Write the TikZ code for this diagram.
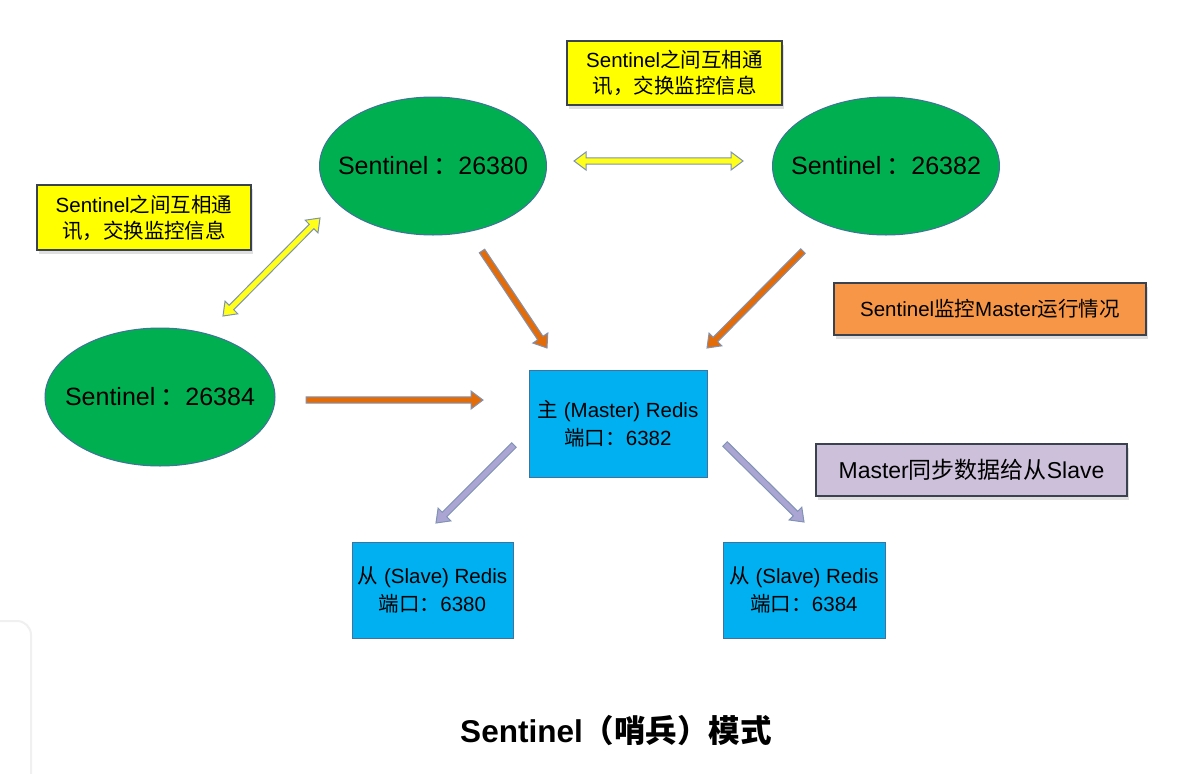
\documentclass[tikz,border=0pt]{standalone}
\usepackage{fontspec}
\setmainfont{Liberation Sans}
\newfontfamily\cjk{Noto Sans CJK SC}
\usetikzlibrary{shapes.geometric,shadows,calc}
\definecolor{ellgreen}{HTML}{00B050}
\definecolor{bordblue}{HTML}{41719C}
\definecolor{boxblue}{HTML}{00B0F0}
\definecolor{callyellow}{HTML}{FFFF00}
\definecolor{callorange}{HTML}{F79646}
\definecolor{callpurple}{HTML}{CCC0DA}
\definecolor{calledge}{HTML}{3A4250}
\definecolor{arrline}{HTML}{7F93B5}
\definecolor{arryellow}{HTML}{FFFF1A}
\definecolor{arrorange}{HTML}{E36C09}
\definecolor{arrpurple}{HTML}{ABA5D3}
\newcommand{\arrSW}{3.2pt}
\newcommand{\arrHW}{9pt}
\newcommand{\arrHL}{12pt}
\newcommand{\singlearrow}[3]{%
  \coordinate (tmpH) at ($(#3)!\arrHL!(#2)$);
  \filldraw[#1] ($(#2)!\arrSW!90:(#3)$) -- ($(tmpH)!\arrSW!90:(#3)$) -- ($(tmpH)!\arrHW!90:(#3)$) -- (#3)
    -- ($(tmpH)!\arrHW!-90:(#3)$) -- ($(tmpH)!\arrSW!-90:(#3)$) -- ($(#2)!\arrSW!-90:(#3)$) -- cycle;}
\newcommand{\doublearrow}[3]{%
  \coordinate (tmpH) at ($(#3)!\arrHL!(#2)$);
  \coordinate (tmpG) at ($(#2)!\arrHL!(#3)$);
  \filldraw[#1] (#2) -- ($(tmpG)!\arrHW!90:(#3)$) -- ($(tmpG)!\arrSW!90:(#3)$) -- ($(tmpH)!\arrSW!90:(#3)$)
    -- ($(tmpH)!\arrHW!90:(#3)$) -- (#3) -- ($(tmpH)!\arrHW!-90:(#3)$) -- ($(tmpH)!\arrSW!-90:(#3)$)
    -- ($(tmpG)!\arrSW!-90:(#3)$) -- ($(tmpG)!\arrHW!-90:(#3)$) -- cycle;}
\newcommand{\senttext}[1]{\makebox[0pt]{Sentinel\kern5pt{\cjk ：}#1}}
\begin{document}
\begin{tikzpicture}[x=1pt,y=-1pt,
  sentinel/.style={ellipse, fill=ellgreen, draw=bordblue, line width=1pt, inner sep=0pt,
    minimum width=227pt, minimum height=138pt, font=\fontsize{25}{30}\selectfont},
  redis/.style={rectangle, fill=boxblue, draw=bordblue, line width=1pt, inner sep=0pt,
    align=center, font=\fontsize{20.5}{28}\selectfont},
  callout/.style={rectangle, draw=calledge, line width=1.4pt, inner sep=0pt, align=center,
    drop shadow={shadow xshift=2pt, shadow yshift=-4pt, opacity=0.25},
    font=\fontsize{20.5}{26}\selectfont},
  yarr/.style={fill=arryellow, draw=arrline, line width=1pt},
  oarr/.style={fill=arrorange, draw=arrline, line width=1pt},
  parr/.style={fill=arrpurple, draw=arrline, line width=1pt}]
\useasboundingbox (0,0) rectangle (1203,774);
\fill[white] (0,0) rectangle (1203,774);
\draw[black!6, line width=2pt, rounded corners=14pt] (0,621) -- (31,621) -- (31,774);

% sentinels
\node[sentinel] (s80) at (433,166) {\senttext{26380}};
\node[sentinel] (s82) at (886,166) {\senttext{26382}};
\node[sentinel, minimum width=230pt] (s84) at (160,397) {\senttext{26384}};

% redis boxes
\node[redis, minimum width=178pt, minimum height=107pt] (master) at (618,423.5)
  {{\cjk 主} (Master) Redis\\{\cjk 端口：}6382};
\node[redis, minimum width=161pt, minimum height=96pt] (slaveA) at (432.5,590)
  {{\cjk 从} (Slave) Redis\\{\cjk 端口：}6380};
\node[redis, minimum width=162pt, minimum height=96pt] (slaveB) at (804,590)
  {{\cjk 从} (Slave) Redis\\{\cjk 端口：}6384};

% callouts
\node[callout, fill=callyellow, minimum width=215pt, minimum height=64pt] (noteTop) at (674.5,73)
  {Sentinel{\cjk 之间互相通}\\{\cjk 讯，交换监控信息}};
\node[callout, fill=callyellow, minimum width=214pt, minimum height=65pt] (noteLeft) at (144,217.5)
  {Sentinel{\cjk 之间互相通}\\{\cjk 讯，交换监控信息}};
\node[callout, fill=callorange, minimum width=312pt, minimum height=52pt] (noteMon) at (990,309)
  {Sentinel{\cjk 监控}Master{\cjk 运行情况}};
\node[callout, fill=callpurple, minimum width=311pt, minimum height=52pt, font=\fontsize{23}{28}\selectfont] (noteSync) at (971.5,470)
  {Master{\cjk 同步数据给从}Slave};

% title
\node[font=\fontsize{31.5}{36}\selectfont\bfseries] (title) at (616,731) {Sentinel{\cjk （哨兵）模式}};

% arrow end points
\coordinate (yh1) at (574,161);
\coordinate (yh2) at (743,161);
\coordinate (yd1) at (223,316);
\coordinate (yd2) at (320,218);
\coordinate (o1s) at (482,251);
\coordinate (o1e) at (547,348);
\coordinate (o2s) at (803,251);
\coordinate (o2e) at (707,348);
\coordinate (o3s) at (306,400);
\coordinate (o3e) at (483,400);
\coordinate (p1s) at (514,445);
\coordinate (p1e) at (436,523);
\coordinate (p2s) at (725,444);
\coordinate (p2e) at (804,522);

\doublearrow{yarr}{yh1}{yh2}
\doublearrow{yarr}{yd1}{yd2}
\singlearrow{oarr}{o1s}{o1e}
\singlearrow{oarr}{o2s}{o2e}
\singlearrow{oarr}{o3s}{o3e}
\singlearrow{parr}{p1s}{p1e}
\singlearrow{parr}{p2s}{p2e}
\end{tikzpicture}
\end{document}
